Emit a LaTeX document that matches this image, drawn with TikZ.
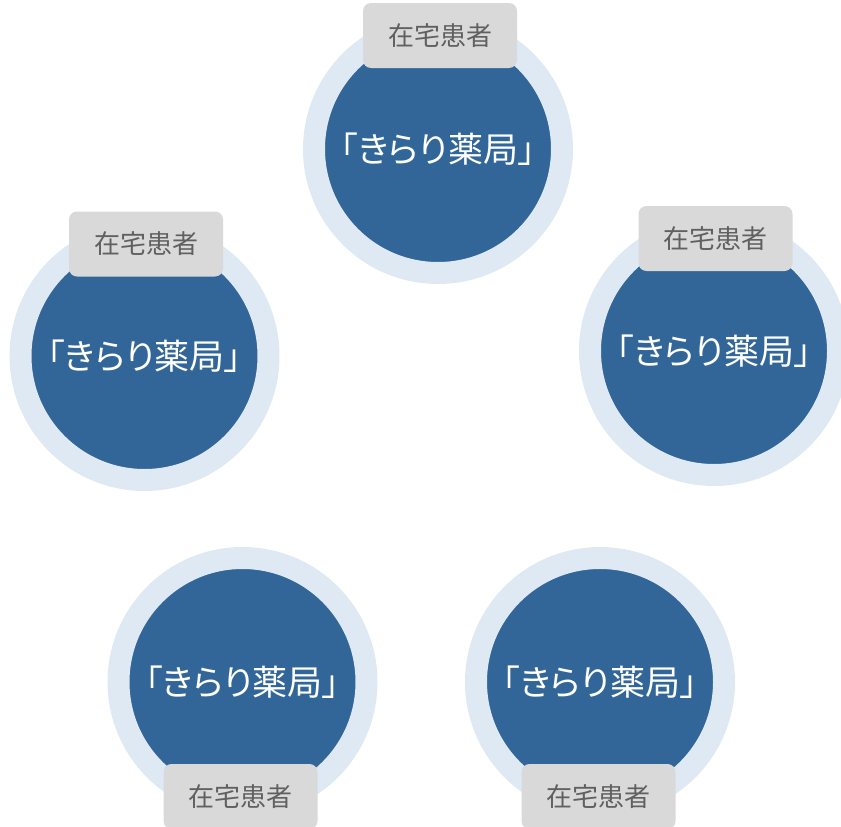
\documentclass[tikz,border=0pt]{standalone}
\usepackage{fontspec}
\newfontfamily\cjk{Noto Sans CJK JP}
\newfontfamily\cjkp[RawFeature=+palt]{Noto Sans CJK JP}
\definecolor{pblue}{HTML}{326698}
\definecolor{pring}{HTML}{DFE9F4}
\definecolor{pgray}{HTML}{D9D9D9}
\definecolor{ptext}{HTML}{606060}
\tikzset{
  pharm/.style={circle, fill=pblue, draw=pring, line width=22pt, minimum size=248pt, inner sep=0pt,
    text=white, font=\cjkp\fontsize{35}{40}\selectfont},
  patient/.style={rounded corners=8pt, fill=pgray, minimum width=154pt, minimum height=65pt, inner sep=0pt,
    text=ptext, font=\cjk\fontsize{26}{30}\selectfont}
}
\begin{document}
\begin{tikzpicture}[x=1pt,y=1pt]
\useasboundingbox (0,0) rectangle (841,-827);
\clip (0,0) rectangle (841,-827);
\node[pharm] (p1) at (438,-149) {「きらり薬局」};
\node[pharm] (p2) at (714,-351) {「きらり薬局」};
\node[pharm] (p3) at (600,-682) {「きらり薬局」};
\node[pharm] (p4) at (242.5,-682) {「きらり薬局」};
\node[pharm] (p5) at (144.5,-356) {「きらり薬局」};
\node[patient] (l1) at (440,-35.5) {在宅患者};
\node[patient] (l2) at (715.5,-238.5) {在宅患者};
\node[patient] (l3) at (598.5,-796.5) {在宅患者};
\node[patient] (l4) at (240.5,-796.5) {在宅患者};
\node[patient] (l5) at (146,-244) {在宅患者};
\end{tikzpicture}
\end{document}
